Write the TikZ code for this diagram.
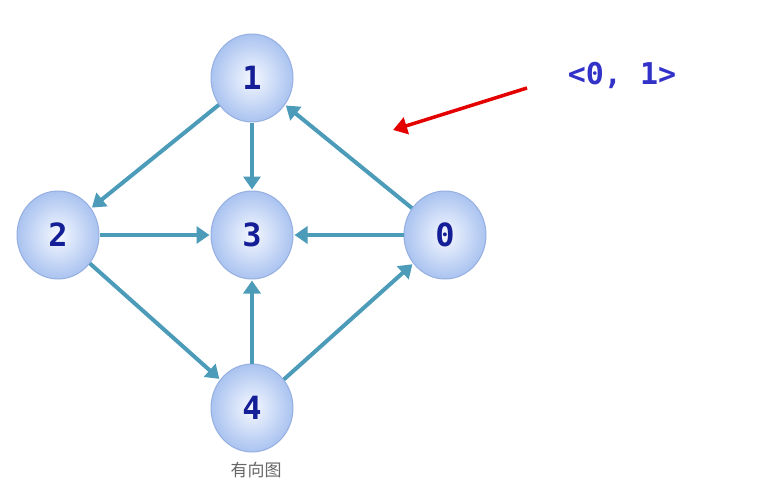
\documentclass[tikz,border=0pt]{standalone}
\usepackage{fontspec}
\setmonofont{DejaVu Sans Mono}
\newfontfamily\cjk{Noto Sans CJK SC}
\usetikzlibrary{arrows.meta,shapes.geometric}
\definecolor{edge}{RGB}{75,155,185}
\definecolor{nodeborder}{RGB}{150,175,225}
\definecolor{nodein}{RGB}{245,248,255}
\definecolor{nodeout}{RGB}{170,195,240}
\definecolor{numblue}{RGB}{20,30,150}
\definecolor{labblue}{RGB}{50,50,200}
\tikzset{
  vert/.style={ellipse, minimum width=82pt, minimum height=88pt, draw=nodeborder, line width=1pt,
    inner color=nodein, outer color=nodeout, font=\ttfamily\bfseries\fontsize{32}{32}\selectfont, text=numblue},
  arc/.style={draw=edge, line width=4pt, -{Triangle[length=13pt,width=17pt]}, shorten >=1pt, shorten <=0pt}
}
\begin{document}
\begin{tikzpicture}[x=1pt,y=-1pt]
\useasboundingbox (0,0) rectangle (763,490);
\node[vert] (n1) at (252,78) {1};
\node[vert] (n2) at (58,235) {2};
\node[vert] (n3) at (252,235) {3};
\node[vert] (n0) at (445,235) {0};
\node[vert] (n4) at (252,408) {4};
\draw[arc] (n1) -- (n2);
\draw[arc] (n1) -- (n3);
\draw[arc] (n0) -- (n1);
\draw[arc] (n2) -- (n3);
\draw[arc] (n0) -- (n3);
\draw[arc] (n2) -- (n4);
\draw[arc] (n4) -- (n3);
\draw[arc] (n4) -- (n0);
\node[font=\ttfamily\bfseries\fontsize{30}{30}\selectfont, text=labblue] (lab) at (622,75) {<0, 1>};
\coordinate (tipc) at (393,130);
\draw[red!90!black, line width=3.5pt, -{Triangle[length=14pt,width=17pt]}] (527,88) -- (tipc);
\node[font=\cjk\fontsize{17}{17}\selectfont, text=black!60] (cap) at (256,470) {有向图};
\end{tikzpicture}
\end{document}
